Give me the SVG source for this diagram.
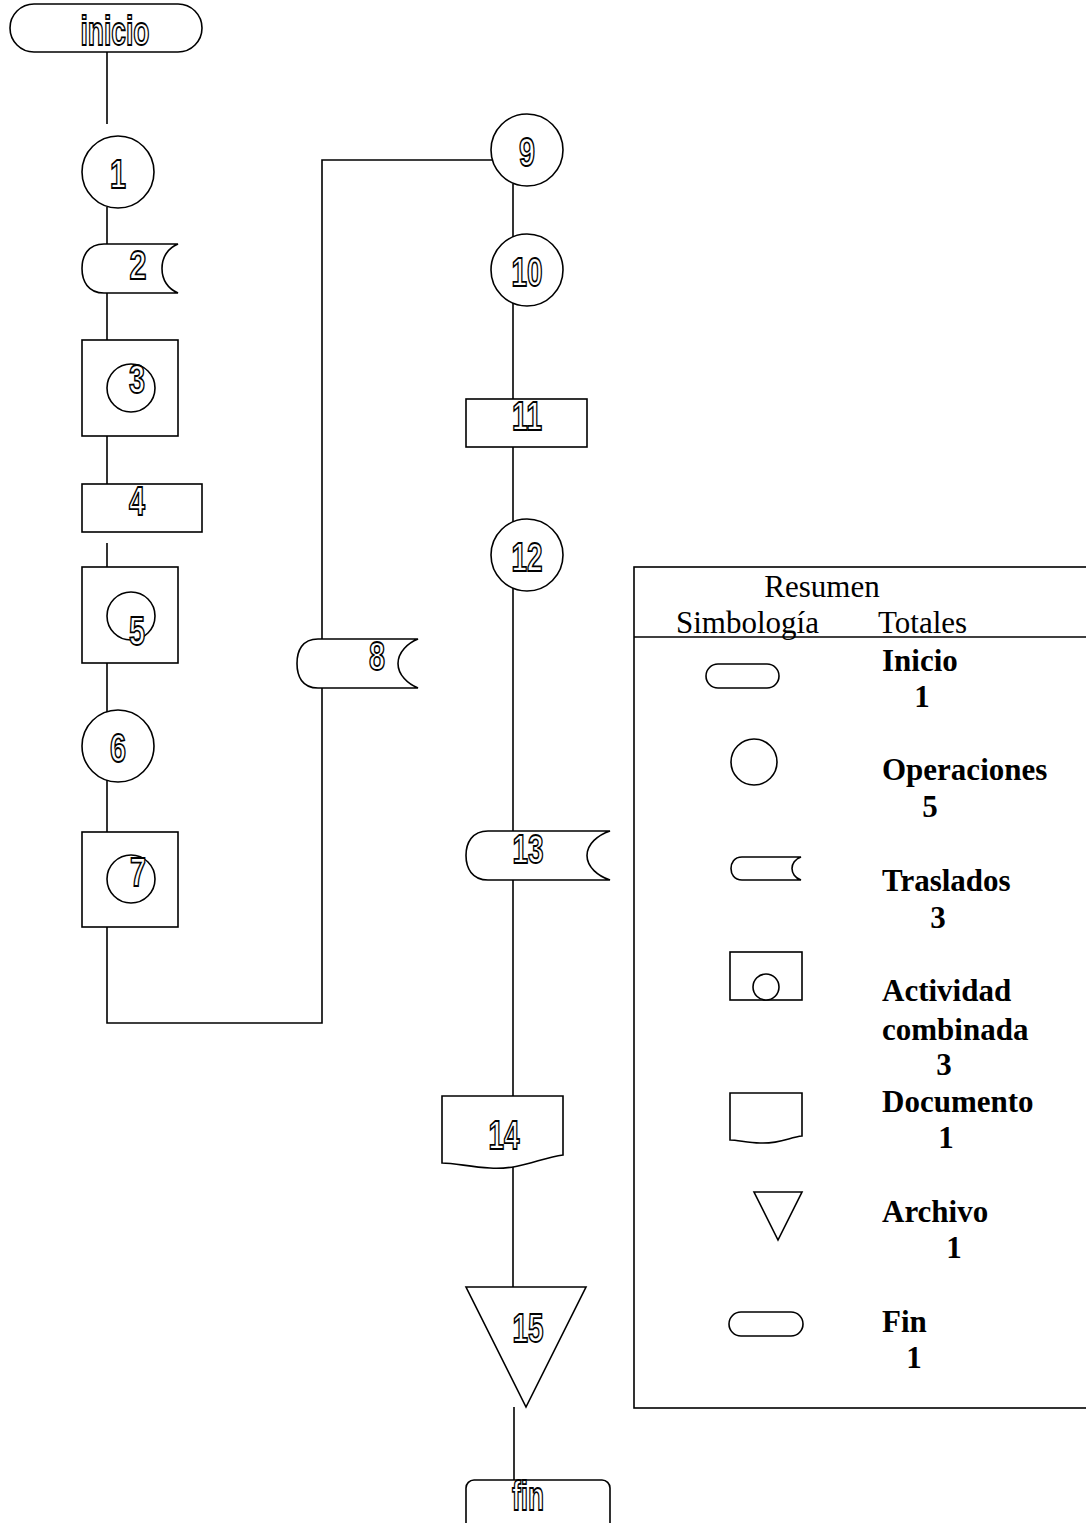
<svg xmlns="http://www.w3.org/2000/svg" width="1086" height="1523" viewBox="0 0 1086 1523">
<style>
.s{fill:#fff;stroke:#000;stroke-width:1.6}
.n{fill:none;stroke:#000;stroke-width:1.6}
.t{font-family:"Liberation Sans",Arial,sans-serif;font-weight:bold;font-size:41px;fill:#fff;stroke:#000;stroke-width:1.8;text-anchor:middle;opacity:0.99}
.r{font-family:"Liberation Serif","Times New Roman",serif;font-size:31px;fill:#000}
.b{font-family:"Liberation Serif","Times New Roman",serif;font-size:31px;font-weight:bold;fill:#000}
</style>
<rect width="1086" height="1523" fill="#fff"/>
<g id="connectors" class="n">
<path d="M107,52 V124"/>
<path d="M107,207 V244"/>
<path d="M107,293 V340"/>
<path d="M107,436 V484"/>
<path d="M107,543 V567"/>
<path d="M107,663 V713"/>
<path d="M107,780 V832"/>
<path d="M107,927 V1023 H322 V688"/>
<path d="M322,639 V160 H492"/>
<path d="M513,184 V237"/>
<path d="M513,303 V399"/>
<path d="M513,447 V522"/>
<path d="M513,588 V831"/>
<path d="M513,880 V1096"/>
<path d="M513,1163 V1287"/>
<path d="M514,1407 V1480"/>
</g>
<g id="inicio"><rect class="s" x="10" y="4" width="192" height="48" rx="24"/><text class="t" x="115" y="45" textLength="69" lengthAdjust="spacingAndGlyphs">inicio</text></g>
<g id="n1"><circle class="s" cx="118" cy="172" r="36"/><text class="t" x="118" y="188" textLength="16" lengthAdjust="spacingAndGlyphs">1</text></g>
<g id="n2"><path class="s" d="M178,244 H104 C88,244 82,256 82,268.5 C82,281 88,293 104,293 H178 C168,289 162,280 162,268.5 C162,257 168,248 178,244 Z"/><text class="t" x="138" y="279" textLength="17" lengthAdjust="spacingAndGlyphs">2</text></g>
<g id="n3"><rect class="s" x="82" y="340" width="96" height="96"/><circle class="s" cx="131" cy="388" r="24"/><text class="t" x="137" y="393" textLength="16" lengthAdjust="spacingAndGlyphs">3</text></g>
<g id="n4"><rect class="s" x="82" y="484" width="120" height="48"/><text class="t" x="137" y="515" textLength="16" lengthAdjust="spacingAndGlyphs">4</text></g>
<g id="n5"><rect class="s" x="82" y="567" width="96" height="96"/><circle class="s" cx="131" cy="616" r="24"/><text class="t" x="137" y="645" textLength="16" lengthAdjust="spacingAndGlyphs">5</text></g>
<g id="n6"><circle class="s" cx="118" cy="746" r="36"/><text class="t" x="118" y="762" textLength="16" lengthAdjust="spacingAndGlyphs">6</text></g>
<g id="n7"><rect class="s" x="82" y="832" width="96" height="95"/><circle class="s" cx="131" cy="879" r="24"/><text class="t" x="138" y="886" textLength="16" lengthAdjust="spacingAndGlyphs">7</text></g>
<g id="n8"><path class="s" d="M418,639 H318 C302,639 297,651 297,663.5 C297,676 302,688 318,688 H418 C408,684 398,675 398,663.5 C398,652 408,643 418,639 Z"/><text class="t" x="377" y="670" textLength="16" lengthAdjust="spacingAndGlyphs">8</text></g>
<g id="n9"><circle class="s" cx="527" cy="150" r="36"/><text class="t" x="527" y="166" textLength="16" lengthAdjust="spacingAndGlyphs">9</text></g>
<g id="n10"><circle class="s" cx="527" cy="270" r="36"/><text class="t" x="527" y="286" textLength="31" lengthAdjust="spacingAndGlyphs">10</text></g>
<g id="n11"><rect class="s" x="466" y="399" width="121" height="48"/><text class="t" x="527" y="430" textLength="30" lengthAdjust="spacingAndGlyphs">11</text></g>
<g id="n12"><circle class="s" cx="527" cy="555" r="36"/><text class="t" x="527" y="571" textLength="31" lengthAdjust="spacingAndGlyphs">12</text></g>
<g id="n13"><path class="s" d="M610,831 H488 C472,831 466,843 466,855.5 C466,868 472,880 488,880 H610 C598,876 587,867 587,855.5 C587,844 598,835 610,831 Z"/><text class="t" x="528" y="863" textLength="31" lengthAdjust="spacingAndGlyphs">13</text></g>
<g id="n14"><path class="s" d="M442,1096 H563 V1155 C540,1158 520,1170 490,1168 C470,1167 455,1163 442,1163 Z"/><text class="t" x="504" y="1149" textLength="31" lengthAdjust="spacingAndGlyphs">14</text></g>
<g id="n15"><path class="s" d="M466,1287 H586 L526,1407 Z"/><text class="t" x="528" y="1342" textLength="31" lengthAdjust="spacingAndGlyphs">15</text></g>
<g id="fin"><rect class="s" x="466" y="1480" width="144" height="70" rx="8"/><text class="t" x="528" y="1510" textLength="32" lengthAdjust="spacingAndGlyphs">fin</text></g>
<g id="legend">
<rect class="s" x="634" y="567" width="470" height="841"/>
<path class="n" d="M634,637 H1086"/>
<text class="r" x="822" y="597" text-anchor="middle">Resumen</text>
<text class="r" x="676" y="633">Simbología</text>
<text class="r" x="878" y="633">Totales</text>
<rect class="s" x="706" y="664" width="73" height="24" rx="12"/>
<text class="b" x="882" y="671">Inicio</text>
<text class="b" x="922" y="707" text-anchor="middle">1</text>
<circle class="s" cx="754" cy="762" r="23"/>
<text class="b" x="882" y="780">Operaciones</text>
<text class="b" x="930" y="817" text-anchor="middle">5</text>
<path class="s" d="M801,857 H742 C734,857 731,863 731,868.5 C731,874 734,880 742,880 H801 C795,878 792,873 792,868.5 C792,864 795,859 801,857 Z"/>
<text class="b" x="882" y="891">Traslados</text>
<text class="b" x="938" y="928" text-anchor="middle">3</text>
<rect class="s" x="730" y="952" width="72" height="48"/>
<circle class="s" cx="766" cy="987" r="13"/>
<text class="b" x="882" y="1001">Actividad</text>
<text class="b" x="882" y="1040">combinada</text>
<text class="b" x="944" y="1075" text-anchor="middle">3</text>
<path class="s" d="M730,1093 H802 V1136 C790,1137 780,1144 760,1143 C748,1143 738,1140 730,1140 Z"/>
<text class="b" x="882" y="1112">Documento</text>
<text class="b" x="946" y="1148" text-anchor="middle">1</text>
<path class="s" d="M754,1192 H802 L778,1240 Z"/>
<text class="b" x="882" y="1222">Archivo</text>
<text class="b" x="954" y="1258" text-anchor="middle">1</text>
<rect class="s" x="729" y="1312" width="74" height="24" rx="12"/>
<text class="b" x="882" y="1332">Fin</text>
<text class="b" x="914" y="1368" text-anchor="middle">1</text>
</g>
</svg>
